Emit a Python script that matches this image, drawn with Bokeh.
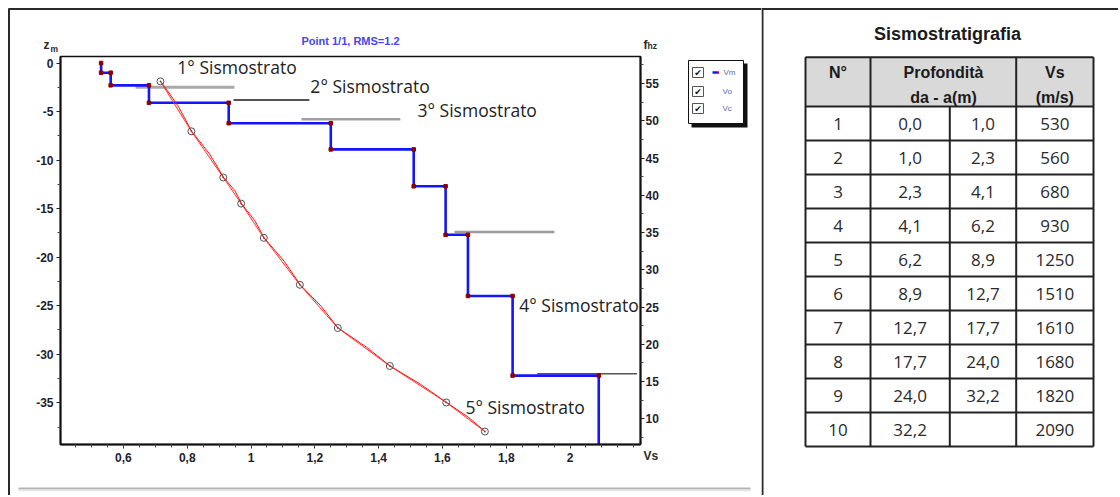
from bokeh.plotting import figure
from bokeh.models import (Range1d, LinearAxis, FixedTicker, CustomJSTickFormatter, GridBox)
from bokeh.embed import file_html
from bokeh.resources import INLINE
from bokeh.core.properties import value
import numpy as np

# ---------------- data ----------------
layer_no = [1, 2, 3, 4, 5, 6, 7, 8, 9, 10]
depth_from = [0.0, 1.0, 2.3, 4.1, 6.2, 8.9, 12.7, 17.7, 24.0, 32.2]
depth_to = [1.0, 2.3, 4.1, 6.2, 8.9, 12.7, 17.7, 24.0, 32.2, None]
vs_ms = [530, 560, 680, 930, 1250, 1510, 1610, 1680, 1820, 2090]

freq_obs = [55.3, 48.6, 42.4, 38.9, 34.3, 28.0, 22.2, 17.1, 12.2, 8.3]
vel_obs = [0.716, 0.813, 0.913, 0.969, 1.040, 1.153, 1.272, 1.435, 1.612, 1.733]
freq_calc = [55.3, 51.95, 48.6, 45.5, 42.4, 40.65, 38.9, 36.6, 34.3, 31.15, 28.0,
             25.1, 22.2, 19.65, 17.1, 14.65, 12.2, 10.25, 8.3]
vel_calc = [0.717, 0.772, 0.814, 0.871, 0.914, 0.949, 0.970, 1.012, 1.041, 1.104, 1.154,
            1.220, 1.273, 1.361, 1.436, 1.531, 1.613, 1.680, 1.734]

strato_labels = ["1° Sismostrato", "2° Sismostrato", "3° Sismostrato",
                 "4° Sismostrato", "5° Sismostrato"]
strato_depth = [-2.5, -3.8, -5.8, -17.4, -32.0]
strato_x0 = [0.638, 0.945, 1.158, 1.638, 1.897]
strato_x1 = [0.948, 1.183, 1.468, 1.951, 2.210]
label_x = [0.769, 1.186, 1.522, 1.841, 1.672]
label_y = [-0.46, -2.42, -4.79, -24.98, -35.39]

x_ticks = [0.6, 0.8, 1.0, 1.2, 1.4, 1.6, 1.8, 2.0]
z_ticks = [0, -5, -10, -15, -20, -25, -30, -35]
f_ticks = [10, 15, 20, 25, 30, 35, 40, 45, 50, 55]
legend_names = ["Vm", "Vo", "Vc"]
chart_title = "Point 1/1, RMS=1.2"
table_title = "Sismostratigrafia"
table_header = ["N°", "Profondità", "da - a(m)", "Vs", "(m/s)"]

X0, X1 = 0.4027, 2.2209
Z0, Z1 = -39.3, 0.67
F0, F1 = 6.56, 58.64

# ---------------- geometry (page pixels) ----------------
LW, H = 761, 495
FL, FR, FT, FB = 60, 640, 56, 444   # chart frame in page pixels


def bare(fig):
    try:
        fig.frame_align = False
    except Exception:
        pass
    fig.xgrid.visible = False
    fig.ygrid.visible = False


# ---------------- left chart ----------------
p = figure(width=LW, height=H, output_backend="svg", toolbar_location=None,
           x_range=Range1d(X0, X1), y_range=Range1d(Z0, Z1),
           min_border_left=FL, min_border_right=LW - FR, min_border_top=FT,
           min_border_bottom=H - FB)
bare(p)
p.extra_y_ranges = {"fhz": Range1d(F0, F1)}
p.outline_line_color = "#111111"
p.outline_line_width = 1.5
p.background_fill_color = "white"
p.border_fill_color = "white"

fmt = CustomJSTickFormatter(code="return (Math.round(tick*10)/10).toString().replace('.', ',');")


def style_axis(ax):
    ax.axis_line_color = "#111111"
    ax.axis_line_width = 2
    ax.major_tick_line_color = "#222222"
    ax.minor_tick_line_color = "#444444"
    ax.major_tick_in = 0
    ax.major_tick_out = 4
    ax.minor_tick_in = 0
    ax.minor_tick_out = 3
    ax.major_label_text_font = "Liberation Sans"
    ax.major_label_text_font_style = "bold"
    ax.major_label_text_font_size = "12px"
    ax.major_label_text_color = "#1e1e2e"
    ax.formatter = fmt


xax = p.xaxis[0]
xax.ticker = FixedTicker(ticks=x_ticks, minor_ticks=list(np.round(np.arange(0.45, 2.21, 0.05), 2)))
style_axis(xax)
xax.major_label_standoff = 4

yax = p.yaxis[0]
yax.ticker = FixedTicker(ticks=z_ticks, minor_ticks=list(np.arange(-37.5, 0, 5.0)))
style_axis(yax)
yax.major_label_standoff = 3

rax = LinearAxis(y_range_name="fhz")
rax.ticker = FixedTicker(ticks=f_ticks, minor_ticks=list(np.arange(7.5, 58, 5.0)))
style_axis(rax)
rax.major_label_standoff = 1
p.add_layout(rax, "right")

# sismostrato reference lines
seg_colors = ["#a9a9a9", "#1a1a1a", "#a0a0a0", "#9a9a9a", "#555555"]
seg_widths = [3, 1.5, 2.5, 2.5, 1.5]
for i in range(len(strato_depth)):
    p.segment(x0=[strato_x0[i]], x1=[strato_x1[i]], y0=[strato_depth[i]],
              y1=[strato_depth[i]], line_color=seg_colors[i], line_width=seg_widths[i])

# Vm step profile
step_x, step_y = [], []
for i, v in enumerate(vs_ms):
    vk = v / 1000.0
    top = -depth_from[i]
    bot = -depth_to[i] if depth_to[i] is not None else Z0
    step_x += [vk, vk]
    step_y += [top, bot]
p.line(step_x, step_y, line_color="#1414ff", line_width=2.6)
p.scatter(step_x[:-1], step_y[:-1], marker="square", size=3.5,
          fill_color="#8b0000", line_color="#8b0000")

# Vo / Vc dispersion curves
p.line(vel_calc, freq_calc, y_range_name="fhz", line_color="#ff1010", line_width=1)
p.line(vel_obs, freq_obs, y_range_name="fhz", line_color="#ff3030", line_width=1)
p.scatter(vel_obs, freq_obs, y_range_name="fhz", marker="circle_dot", size=7,
          fill_color=None, line_color="#505050", line_width=1)

# labels of layers
p.text(x=label_x, y=label_y, text=strato_labels, text_font=value("Open Sans"),
       text_font_size="17.5px", text_baseline="middle", text_align="left",
       text_color="#222222")

# ---------------- transparent overlay for the left panel decorations ----------------
ov = figure(width=LW, height=H, output_backend="svg", toolbar_location=None,
            x_range=Range1d(0, LW), y_range=Range1d(H, 0),
            x_axis_type=None, y_axis_type=None,
            min_border_left=0, min_border_right=0, min_border_top=0, min_border_bottom=0)
bare(ov)
ov.outline_line_color = None
ov.background_fill_color = None
ov.border_fill_color = None
ov.background_fill_alpha = 0
ov.border_fill_alpha = 0

ov.segment(x0=[8.5, 8], x1=[8.5, LW], y0=[8, 8.5], y1=[H, 8.5],
           line_color="#2a2a2a", line_width=2)
ov.segment(x0=[18], x1=[750], y0=[488], y1=[488], line_color="#b5b5b5", line_width=2)
ov.segment(x0=[18], x1=[750], y0=[490], y1=[490], line_color="#e4e4e4", line_width=1.5)

ov.text(x=[350], y=[40], text=[chart_title], text_font=value("Liberation Sans"),
        text_font_style="bold", text_font_size="11px", text_color="#4646f0",
        text_align="center", text_baseline="middle")

axfont = value("Liberation Sans")
ov.text(x=[43, 643, 643], y=[44, 44, 455], text=["z", "f", "Vs"], text_font=axfont,
        text_font_style="bold", text_font_size="12px", text_color="#2a2a2a",
        text_align="left", text_baseline="middle")
ov.text(x=[50, 647], y=[48, 45], text=["m", "hz"], text_font=axfont,
        text_font_style="bold", text_font_size="8.5px", text_color="#2a2a2a",
        text_align="left", text_baseline="middle")

# legend box
leg_rows = [72, 91, 108]
ov.quad(left=[691], right=[747], top=[63], bottom=[127], fill_color="#111111", line_color=None)
ov.quad(left=[688], right=[743], top=[60], bottom=[123], fill_color="white",
        line_color="#111111", line_width=1)
ov.quad(left=[692] * 3, right=[703] * 3, top=[y - 5 for y in leg_rows],
        bottom=[y + 5 for y in leg_rows], fill_color="white", line_color="#555555", line_width=1)
ov.text(x=[697.5] * 3, y=leg_rows, text=["✔"] * 3, text_font=value("DejaVu Sans"),
        text_font_size="9px", text_color="#111111", text_align="center",
        text_baseline="middle")
ov.segment(x0=[712], x1=[716.5], y0=[72], y1=[72], line_color="#1414ff", line_width=2.5)
ov.segment(x0=[716.5], x1=[718.5], y0=[72], y1=[72], line_color="#cc0000", line_width=2.5)
ov.text(x=[723, 722, 722], y=leg_rows, text=legend_names, text_font=axfont,
        text_font_size="8px", text_color="#5a6ab8", text_align="left",
        text_baseline="middle")

# ---------------- right panel: table ----------------
RW = 1118 - LW
t = figure(width=RW, height=H, output_backend="svg", toolbar_location=None,
           x_range=Range1d(LW, LW + RW), y_range=Range1d(H, 0),
           x_axis_type=None, y_axis_type=None,
           min_border_left=0, min_border_right=0, min_border_top=0, min_border_bottom=0)
bare(t)
t.outline_line_color = None
t.background_fill_color = "white"
t.border_fill_color = "white"

t.segment(x0=[762], x1=[762], y0=[7.5], y1=[H], line_color="#2a2a2a", line_width=2)
t.segment(x0=[LW], x1=[LW + RW], y0=[8.5], y1=[8.5], line_color="#2a2a2a", line_width=2)

t.text(x=[947], y=[33], text=[table_title], text_font=value("Liberation Sans"),
       text_font_style="bold", text_font_size="18px", text_align="center",
       text_baseline="middle", text_color="#1a1a1a")

tx = [805, 870, 949.3, 1015.7, 1093]
ty_top, ty_head = 56.7, 106
row_h = 34
n = len(layer_no)
t.quad(left=[tx[0]], right=[tx[-1]], top=[ty_top], bottom=[ty_head],
       fill_color="#d9d9d9", line_color=None)
hy = [ty_top, ty_head] + [ty_head + row_h * (k + 1) for k in range(n)]
ybot = hy[-1]
t.segment(x0=[tx[0]] * len(hy), x1=[tx[-1]] * len(hy), y0=hy, y1=hy,
          line_color="#222222", line_width=2)
t.segment(x0=[tx[0], tx[1], tx[3], tx[4]], x1=[tx[0], tx[1], tx[3], tx[4]],
          y0=[ty_top] * 4, y1=[ybot] * 4, line_color="#222222", line_width=2)
t.segment(x0=[tx[2]], x1=[tx[2]], y0=[ty_head], y1=[ybot], line_color="#222222", line_width=2)

t.text(x=[837.5, 943, 943, 1054.3, 1054.3], y=[71.7, 71.7, 96.7, 71.7, 96.7],
       text=table_header, text_font=value("Liberation Sans"),
       text_font_style="bold", text_font_size="16px", text_align="center",
       text_baseline="middle", text_color="#1a1a1a")


def fmt_depth(d):
    return "" if d is None else f"{d:.1f}".replace(".", ",")


col_c = [(tx[k] + tx[k + 1]) / 2 for k in range(4)]
cx, cy, ctext = [], [], []
for k in range(n):
    yc = ty_head + row_h * k + row_h / 2
    vals = [str(layer_no[k]), fmt_depth(depth_from[k]), fmt_depth(depth_to[k]), str(vs_ms[k])]
    for c in range(4):
        cx.append(col_c[c]); cy.append(yc); ctext.append(vals[c])
t.text(x=cx, y=cy, text=ctext, text_font=value("Open Sans"), text_font_size="17px",
       text_align="center", text_baseline="middle", text_color="#2a2a2a")

layout = GridBox(children=[(p, 0, 0), (t, 0, 1), (ov, 0, 0)], spacing=0)
open("out.html", "w").write(file_html(layout, INLINE))
